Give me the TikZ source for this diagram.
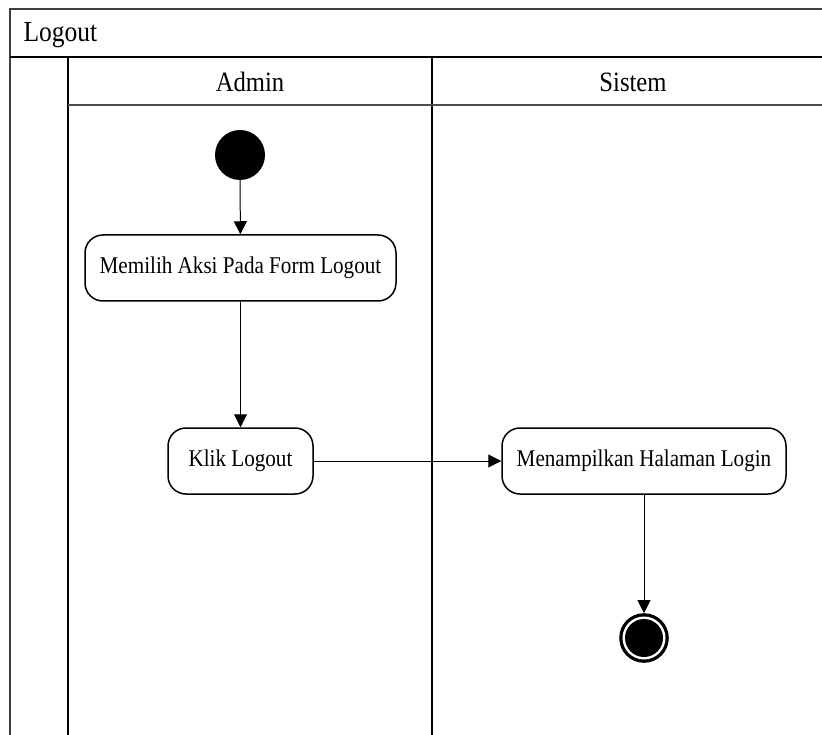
\documentclass[tikz,border=0pt]{standalone}
\usepackage{fontspec}
\setmainfont{Liberation Serif}
\newfontfamily\narrowserif[FakeStretch=0.88]{Liberation Serif}
\usetikzlibrary{arrows.meta}
\begin{document}
\begin{tikzpicture}[x=1pt,y=-1pt,
  frame/.style={line width=1.3pt,draw=black!75},
  lane/.style={line width=2.4pt,draw=black},
  hdr/.style={line width=1.3pt,draw=black!70},
  title/.style={font=\narrowserif\fontsize{29}{32}\selectfont,anchor=base west},
  lanetitle/.style={font=\narrowserif\fontsize{28}{32}\selectfont,anchor=base},
  act/.style={draw,line width=1.5pt,rounded corners=18pt,minimum height=66pt,
    inner xsep=10pt,font=\narrowserif\fontsize{24}{28}\selectfont},
  flow/.style={line width=1pt,-{Triangle[length=13pt,width=13pt]}},
  startnode/.style={circle,fill=black,minimum size=50pt,inner sep=0pt},
  endnode/.style={circle,draw,line width=1.6pt,fill=black,minimum size=48pt,inner sep=0pt,
    path picture={\fill[white] (path picture bounding box.center) circle[radius=21.5pt];
                  \fill[black] (path picture bounding box.center) circle[radius=19pt];}}
]
\useasboundingbox (0,0) rectangle (822,735);
% pool frame
\draw[frame] (10,735) -- (10,9) -- (822,9);
\node[title] (pool) at (20,42) {Logout};
\draw[lane] (10,57) -- (822,57);
% lanes
\draw[lane] (68,57) -- (68,735);
\draw[lane] (432,57) -- (432,735);
\draw[hdr] (68,105) -- (822,105);
\node[lanetitle] (admin) at (250,92) {Admin};
\node[lanetitle] (sistem) at (633,92) {Sistem};
% activities
\node[startnode] (start) at (240,155) {};
\node[act,minimum width=311pt] (a1) at (240.5,268) {Memilih Aksi Pada Form Logout};
\node[act,minimum width=145pt] (a2) at (240.5,461) {Klik Logout};
\node[act,minimum width=284pt] (a3) at (644,461) {Menampilkan Halaman Login};
\node[endnode] (end) at (644,638) {};
% flows
\draw[flow] (start) -- (a1);
\draw[flow] (a1) -- (a2);
\draw[flow] (a2) -- (a3);
\draw[flow] (a3) -- (end);
\end{tikzpicture}
\end{document}
